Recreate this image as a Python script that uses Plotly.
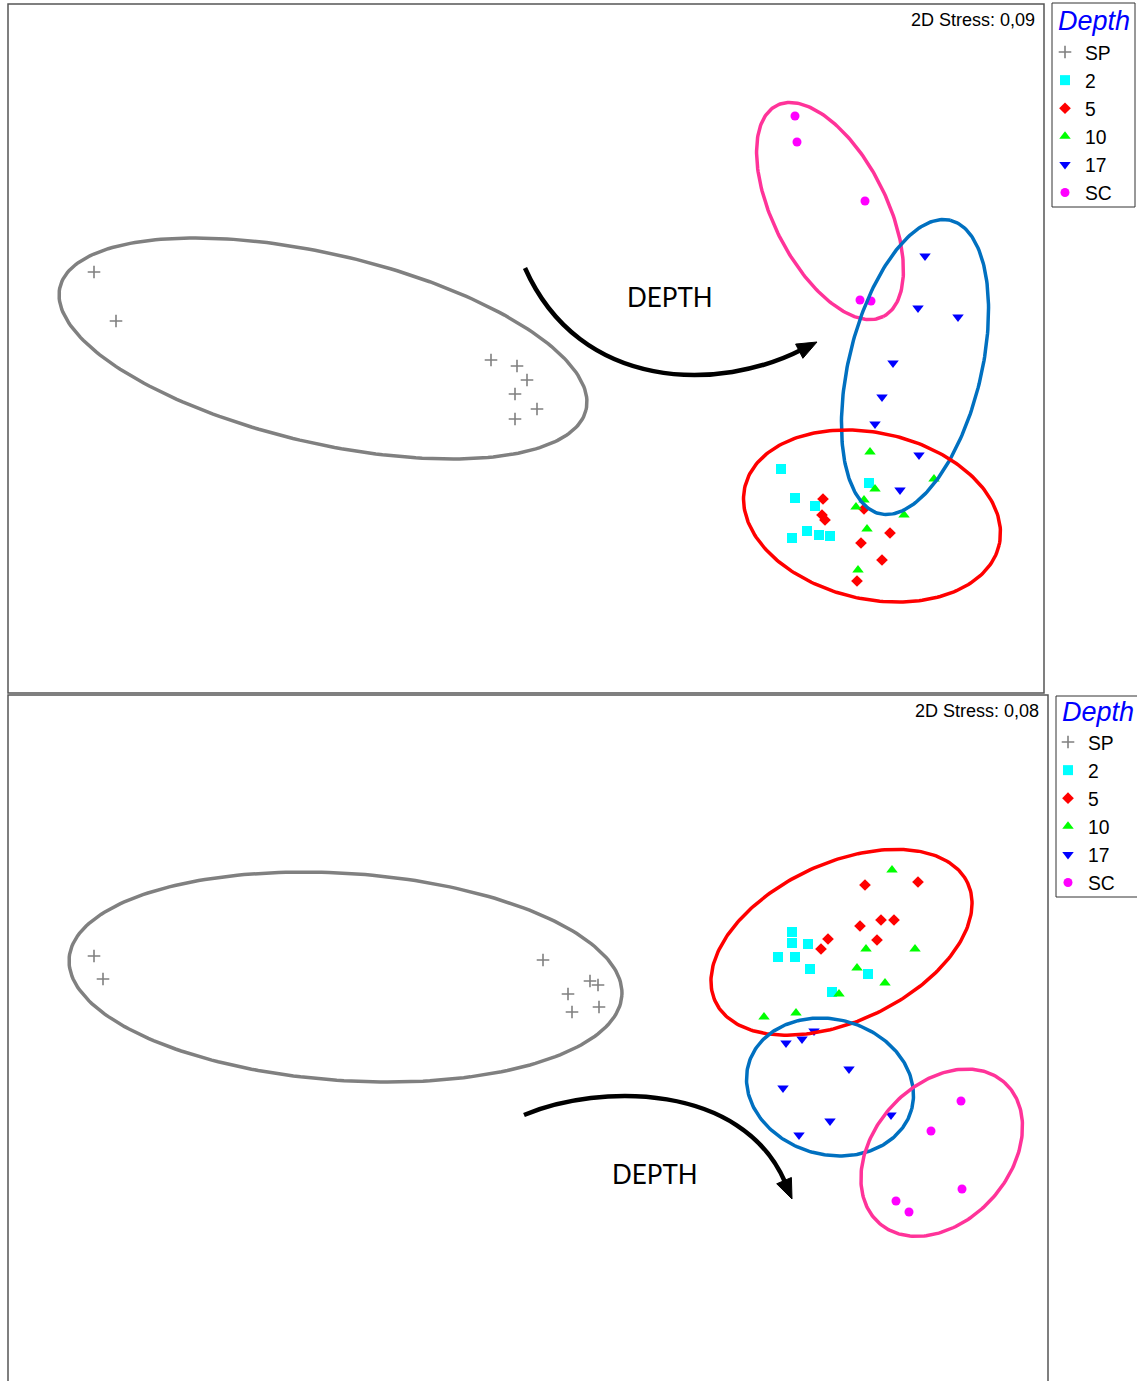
import numpy as np
import plotly.graph_objects as go

W, H = 1137, 1381

# ---------------- data (ordination units) ----------------
groups = ["SP", "2", "5", "10", "17", "SC"]

# Top panel (2D Stress 0,09)
top_sp_x = [94, 116, 491, 517, 527, 515, 537, 515]
top_sp_y = [272, 321, 360, 366, 380, 394, 409, 419]
top_2_x = [781, 795, 815, 869, 807, 792, 819, 830]
top_2_y = [469, 498, 506, 483, 531, 538, 535, 536]
top_5_x = [823, 822, 825, 864, 890, 861, 882, 857]
top_5_y = [499, 515, 520, 509, 533, 543, 560, 581]
top_10_x = [870, 875, 864, 856, 904, 867, 934, 858]
top_10_y = [452, 489, 500, 507, 515, 529, 479, 570]
top_17_x = [925, 918, 958, 893, 882, 875, 919, 900]
top_17_y = [256, 308, 317, 363, 397, 424, 455, 490]
top_sc_x = [795, 797, 865, 860, 871]
top_sc_y = [116, 142, 201, 300, 301]

# Bottom panel (2D Stress 0,08)
bot_sp_x = [94, 103, 543, 590, 598, 568, 599, 572]
bot_sp_y = [956, 979, 960, 981, 985, 994, 1007, 1012]
bot_2_x = [792, 792, 808, 778, 795, 810, 868, 832]
bot_2_y = [932, 943, 944, 957, 957, 969, 974, 992]
bot_5_x = [865, 918, 881, 894, 860, 877, 828, 821]
bot_5_y = [885, 882, 920, 920, 926, 940, 939, 949]
bot_10_x = [892, 866, 915, 857, 885, 839, 764, 796]
bot_10_y = [870, 949, 949, 968, 983, 994, 1017, 1013]
bot_17_x = [814, 786, 802, 849, 783, 891, 830, 799]
bot_17_y = [1031, 1043, 1039, 1069, 1088, 1115, 1121, 1135]
bot_sc_x = [961, 931, 962, 896, 909]
bot_sc_y = [1101, 1131, 1189, 1201, 1212]

stress_labels = ["2D Stress: 0,09", "2D Stress: 0,08"]
legend_title = "Depth"

# group ellipses: (centre x, centre y, semi-major, semi-minor, angle deg)
top_ellipse_sp = (323, 348.5, 270.1, 94.5, 13.1)
top_ellipse_sc = (830, 211, 118.2, 56.6, 63.2)
top_ellipse_17 = (915, 367, 150.9, 66.3, -76.4)
top_ellipse_shallow = (872, 516, 130.4, 83.1, 12.8)
bot_ellipse_sp = (345.5, 977, 277.0, 103.6, 3.85)
bot_ellipse_shallow = (841.5, 942.3, 139.4, 79.0, -25.2)
bot_ellipse_17 = (830, 1087, 84.6, 67.6, 15.5)
bot_ellipse_sc = (941.7, 1152.7, 94.2, 68.2, -48.2)

# ---------------- styles ----------------
FONT = "Liberation Sans, Arial, sans-serif"
marker_styles = {
    "SP": dict(symbol="cross-thin", size=9, color="#808080", line=dict(color="#808080", width=1.6)),
    "2": dict(symbol="square", size=10, color="#00ffff", line=dict(width=0)),
    "5": dict(symbol="diamond", size=9, color="#ff0000", line=dict(width=0)),
    "10": dict(symbol="triangle-up", size=10, color="#00ff00", line=dict(width=0)),
    "17": dict(symbol="triangle-down", size=10, color="#0000ff", line=dict(width=0)),
    "SC": dict(symbol="circle", size=9, color="#ff00ff", line=dict(width=0)),
}
ELL_GRAY, ELL_RED, ELL_BLUE, ELL_PINK = "#808080", "#ff0000", "#0070c0", "#ff3399"

fig = go.Figure()


def ellipse_xy(p, n=240):
    cx, cy, a, b, ang = p
    t = np.linspace(0, 2 * np.pi, n)
    th = np.deg2rad(ang)
    x = cx + a * np.cos(th) * np.cos(t) - b * np.sin(th) * np.sin(t)
    y = cy + a * np.sin(th) * np.cos(t) + b * np.cos(th) * np.sin(t)
    return x, y


panels = [
    dict(xa="x", ya="y", legend="legend",
         data=[(top_sp_x, top_sp_y), (top_2_x, top_2_y), (top_5_x, top_5_y),
               (top_10_x, top_10_y), (top_17_x, top_17_y), (top_sc_x, top_sc_y)],
         ellipses=[(top_ellipse_sp, ELL_GRAY), (top_ellipse_sc, ELL_PINK),
                   (top_ellipse_17, ELL_BLUE), (top_ellipse_shallow, ELL_RED)]),
    dict(xa="x2", ya="y2", legend="legend2",
         data=[(bot_sp_x, bot_sp_y), (bot_2_x, bot_2_y), (bot_5_x, bot_5_y),
               (bot_10_x, bot_10_y), (bot_17_x, bot_17_y), (bot_sc_x, bot_sc_y)],
         ellipses=[(bot_ellipse_sp, ELL_GRAY), (bot_ellipse_shallow, ELL_RED),
                   (bot_ellipse_17, ELL_BLUE), (bot_ellipse_sc, ELL_PINK)]),
]

for p in panels:
    for g, (xs, ys) in zip(groups, p["data"]):
        fig.add_trace(go.Scatter(
            x=xs, y=ys, mode="markers", name=g, marker=marker_styles[g],
            xaxis=p["xa"], yaxis=p["ya"], legend=p["legend"], hoverinfo="skip"))
    for par, col in p["ellipses"]:
        ex, ey = ellipse_xy(par)
        fig.add_trace(go.Scatter(
            x=ex, y=ey, mode="lines", line=dict(color=col, width=3.5),
            xaxis=p["xa"], yaxis=p["ya"], showlegend=False, hoverinfo="skip"))

# ---------------- arrows ("DEPTH") ----------------
arrows = [
    dict(xref="x", yref="y", start=(525, 268), c1=(580, 392), c2=(720, 392), end=(803, 349), tip=(817, 342)),
    dict(xref="x2", yref="y2", start=(524, 1115), c1=(600, 1083), c2=(742, 1083), end=(785, 1182), tip=(792, 1199)),
]
shapes = []
for ar in arrows:
    (sx, sy), (ax1, ay1), (ax2, ay2), (exx, eyy) = ar["start"], ar["c1"], ar["c2"], ar["end"]
    shapes.append(dict(type="path", xref=ar["xref"], yref=ar["yref"],
                       path=f"M {sx},{sy} C {ax1},{ay1} {ax2},{ay2} {exx},{eyy}",
                       line=dict(color="black", width=4.5)))
    tx, ty = ar["tip"]
    d = np.array([tx - ax2, ty - ay2], float)
    d /= np.linalg.norm(d)
    nrm = np.array([-d[1], d[0]])
    base = np.array([tx, ty]) - 20 * d
    p1 = base + 8 * nrm
    p2 = base - 8 * nrm
    shapes.append(dict(type="path", xref=ar["xref"], yref=ar["yref"],
                       path=f"M {tx},{ty} L {p1[0]:.1f},{p1[1]:.1f} L {p2[0]:.1f},{p2[1]:.1f} Z",
                       fillcolor="black", line=dict(color="black", width=1)))

# panel frames
shapes.append(dict(type="rect", xref="paper", yref="paper",
                   x0=8 / W, x1=1044 / W, y0=1 - 693 / H, y1=1 - 4 / H,
                   line=dict(color="#555555", width=1.5)))
shapes.append(dict(type="rect", xref="paper", yref="paper",
                   x0=8 / W, x1=1048 / W, y0=-0.02, y1=1 - 695 / H,
                   line=dict(color="#555555", width=1.5)))
# legend frames
shapes.append(dict(type="rect", xref="paper", yref="paper",
                   x0=1052 / W, x1=1135 / W, y0=1 - 207 / H, y1=1 - 3 / H,
                   line=dict(color="#333333", width=1)))
shapes.append(dict(type="rect", xref="paper", yref="paper",
                   x0=1056 / W, x1=1.02, y0=1 - 897 / H, y1=1 - 696 / H,
                   line=dict(color="#333333", width=1)))

annotations = [
    dict(text=stress_labels[0], xref="paper", yref="paper", x=1037 / W, y=1 - 20 / H,
         xanchor="right", yanchor="middle", showarrow=False,
         font=dict(family=FONT, size=18, color="black")),
    dict(text=stress_labels[1], xref="paper", yref="paper", x=1041 / W, y=1 - 711 / H,
         xanchor="right", yanchor="middle", showarrow=False,
         font=dict(family=FONT, size=18, color="black")),
    dict(text=legend_title, xref="paper", yref="paper", x=1056 / W, y=1 - 21 / H,
         xanchor="left", yanchor="middle", showarrow=False,
         font=dict(family=FONT, size=27, color="#0000ff", style="italic")),
    dict(text=legend_title, xref="paper", yref="paper", x=1060 / W, y=1 - 712 / H,
         xanchor="left", yanchor="middle", showarrow=False,
         font=dict(family=FONT, size=27, color="#0000ff", style="italic")),
    dict(text="DEPTH", xref="x", yref="y", x=670, y=297, showarrow=False,
         xanchor="center", yanchor="middle",
         font=dict(family="Lato, Open Sans, sans-serif", size=26, color="black")),
    dict(text="DEPTH", xref="x2", yref="y2", x=655, y=1174, showarrow=False,
         xanchor="center", yanchor="middle",
         font=dict(family="Lato, Open Sans, sans-serif", size=26, color="black")),
]

ax_common = dict(visible=False, showgrid=False, zeroline=False, fixedrange=True)


def legend_cfg(x, y):
    return dict(
        x=x, y=y, xanchor="left", yanchor="top",
        borderwidth=0, bgcolor="rgba(0,0,0,0)",
        font=dict(family=FONT, size=19.3, color="black"),
        tracegroupgap=0,
    )


fig.update_layout(
    width=W, height=H,
    margin=dict(l=0, r=0, t=0, b=0),
    paper_bgcolor="white", plot_bgcolor="white",
    xaxis=dict(domain=[8 / W, 1044 / W], range=[8, 1044], anchor="y", **ax_common),
    yaxis=dict(domain=[1 - 693 / H, 1 - 4 / H], range=[693, 4], anchor="x", **ax_common),
    xaxis2=dict(domain=[8 / W, 1048 / W], range=[8, 1048], anchor="y2", **ax_common),
    yaxis2=dict(domain=[0, 1 - 695 / H], range=[1381, 695], anchor="x2", **ax_common),
    legend=legend_cfg(1045 / W, 1 - 33 / H),
    legend2=legend_cfg(1048 / W, 1 - 723 / H),
    shapes=shapes,
    annotations=annotations,
    showlegend=True,
)

fig.write_html("out.html", config={"displayModeBar": False},
               post_script="document.body.style.margin='0px';")
